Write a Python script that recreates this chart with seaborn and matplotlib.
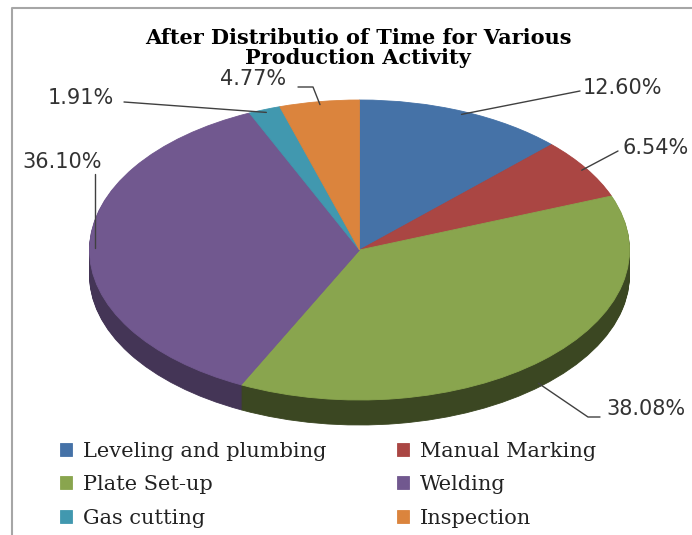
import numpy as np
import matplotlib
matplotlib.use("Agg")
import matplotlib.pyplot as plt
import matplotlib.colors as mcolors
import seaborn as sns

activities = ["Leveling and plumbing", "Manual Marking", "Plate Set-up",
              "Welding", "Gas cutting", "Inspection"]
shares = [12.60, 6.54, 38.08, 36.10, 1.91, 4.77]
share_labels = ["12.60%", "6.54%", "38.08%", "36.10%", "1.91%", "4.77%"]
colors = ["#4572A7", "#AA4643", "#89A54E", "#71588F", "#4198AF", "#DB843D"]

sns.set_theme(style="white")
plt.rcParams["font.family"] = ["DejaVu Sans"]

W, H = 692, 535
fig = plt.figure(figsize=(W / 100, H / 100), dpi=100)

# ellipse of the tilted pie, in pixels
cx, cy, rx, ry, depth = 359.5, 250, 270, 150, 25

pie_ax = fig.add_axes([0, 0, 1, 1])
shade = [0.5, 0.5, 0.43, 0.6, 0.5, 0.5]
side_colors = [tuple(np.array(mcolors.to_rgb(c)) * f) for c, f in zip(colors, shade)]
for k in range(depth, 0, -1):
    side, _ = pie_ax.pie(shares, colors=side_colors, startangle=90, counterclock=False,
                         center=(0, -k / ry), wedgeprops=dict(linewidth=0))
    for w in side:
        w.set_edgecolor(w.get_facecolor())
        w.set_linewidth(0.6)
wedges, _ = pie_ax.pie(shares, colors=colors, startangle=90, counterclock=False,
                       wedgeprops=dict(linewidth=0))
for w in wedges:
    w.set_edgecolor(w.get_facecolor())
    w.set_linewidth(0.6)
pie_ax.set_aspect("auto")
pie_ax.set_xlim(-cx / rx, (W - cx) / rx)
pie_ax.set_ylim((cy - H) / ry, cy / ry)
pie_ax.axis("off")

# overlay in pixel coords for text and leader lines
ov = fig.add_axes([0, 0, 1, 1])
ov.set_xlim(0, W)
ov.set_ylim(H, 0)
ov.axis("off")
ov.patch.set_alpha(0)

ov.plot([12, 12, W + 5], [H + 5, 8, 8], color="#a6a6a6", lw=1.5, clip_on=False)

ov.text(358, 48, "After Distributio of Time for Various\nProduction Activity",
        ha="center", va="center", fontsize=15, fontweight="bold",
        family="DejaVu Serif", linespacing=0.98, color="black")

# label text position (left x, centre y) and leader start points
label_pos = [(583, 88), (622, 148), (606, 409), (22, 162), (48, 98), (220, 79)]
leader_start = [[(580, 91)], [(618, 151)], [(600, 417), (588, 417)],
                [None], [(124, 102)], [(298, 87), (313, 87)]]

cum = np.cumsum(shares)
mid = np.deg2rad((cum - np.array(shares) / 2) / 100 * 360)
for i, txt in enumerate(share_labels):
    ax_ = cx + 0.98 * rx * np.sin(mid[i])
    ay_ = cy - 0.98 * ry * np.cos(mid[i])
    if np.cos(mid[i]) < -0.5:
        ay_ += depth
    pts = leader_start[i]
    if pts[0] is None:
        pts = [(ax_, 174)]
    xs = [p[0] for p in pts] + [ax_]
    ys = [p[1] for p in pts] + [ay_]
    ov.plot(xs, ys, color="#404040", lw=1)
    ov.text(label_pos[i][0], label_pos[i][1], txt, ha="left", va="center",
            fontsize=15, color="#333333")

# legend filled row by row, as in the original
order = [0, 2, 4, 1, 3, 5]
fig.legend([wedges[i] for i in order], [activities[i] for i in order],
           ncol=2, loc="upper left",
           bbox_to_anchor=(41 / W, 1 - 423 / H), frameon=False,
           prop=dict(family="DejaVu Serif", size=15),
           handlelength=0.6, handleheight=0.6, handletextpad=0.5,
           columnspacing=3.4, labelspacing=0.69, labelcolor="#222222")

fig.savefig("out.png", dpi=100)
